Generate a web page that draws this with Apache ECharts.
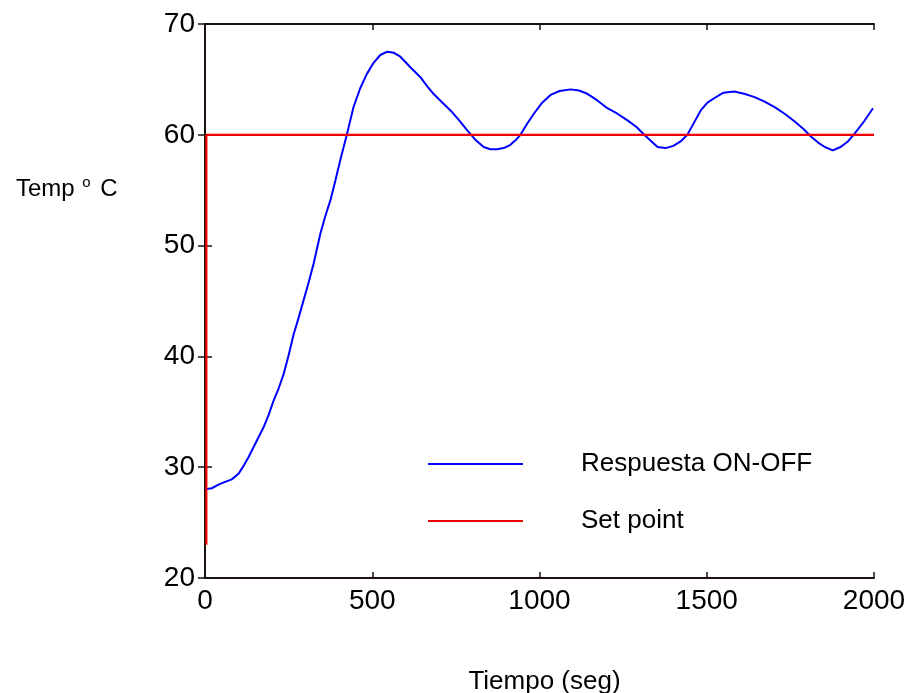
<!DOCTYPE html>
<html>
<head>
<meta charset="utf-8">
<script src="https://cdn.jsdelivr.net/npm/echarts@6/dist/echarts.min.js"></script>
<style>html,body{margin:0;padding:0;background:#fff;}#c{width:909px;height:693px;}</style>
</head>
<body>
<div id="c"></div>
<script>
// Data
const tiempo = [0,20,45,80,100,115,130,145,160,175,190,205,220,235,250,265,280,295,310,325,345,360,375,390,405,424,444,464,484,504,524,545,565,584,614,644,664,683,710,734,760,784,810,833,853,873,893,913,928,943,963,983,1008,1033,1060,1093,1118,1143,1173,1203,1233,1263,1290,1313,1335,1353,1377,1400,1422,1442,1462,1482,1502,1522,1550,1582,1612,1643,1673,1703,1733,1763,1790,1813,1833,1853,1877,1900,1922,1942,1970,1997];
const respuesta = [28.0,28.1,28.5,28.9,29.4,30.1,30.9,31.8,32.7,33.6,34.7,36.0,37.1,38.4,40.1,42.0,43.5,45.1,46.7,48.4,51.1,52.7,54.1,55.9,57.8,60.0,62.5,64.2,65.5,66.5,67.2,67.5,67.4,67.05,66.1,65.2,64.4,63.7,62.9,62.2,61.3,60.4,59.5,58.9,58.7,58.7,58.8,59.1,59.5,60.0,61.0,61.9,62.9,63.6,63.95,64.1,64.0,63.7,63.1,62.4,61.9,61.3,60.7,60.0,59.4,58.9,58.8,59.0,59.4,60.0,61.1,62.2,62.9,63.3,63.8,63.9,63.7,63.4,63.0,62.5,61.9,61.2,60.5,59.8,59.3,58.9,58.6,58.9,59.4,60.1,61.2,62.4];
const setTiempo = [4,4,2000];
const setValor = [23,60,60];
const xTicks = [0,500,1000,1500,2000];
const yTicks = [20,30,40,50,60,70];
const serieNames = ['Respuesta ON-OFF','Set point'];

const FONT = "'Liberation Sans', Arial, Helvetica, sans-serif";
const axisCol = '#1a1010';

const chart = echarts.init(document.getElementById('c'), null, {renderer:'canvas'});
const xMin = xTicks[0], xMax = xTicks[xTicks.length-1];
const yMin = yTicks[0], yMax = yTicks[yTicks.length-1];
const xInt = xTicks[1]-xTicks[0], yInt = yTicks[1]-yTicks[0];

function mkPairs(xs, ys){ return xs.map((x,i)=>[x, ys[i]]); }

chart.setOption({
  animation:false,
  backgroundColor:'#fff',
  title:{
    left:11, top:170,
    text:'{a|Temp }{s|o}{a| C}',
    textStyle:{
      fontWeight:'normal',
      rich:{
        a:{fontFamily:FONT,fontSize:24,fontWeight:'normal',color:'#000',verticalAlign:'bottom',lineHeight:26},
        s:{fontFamily:FONT,fontSize:15,fontWeight:'normal',color:'#000',verticalAlign:'top',lineHeight:26,padding:[0,3,12,1]}
      }
    }
  },
  grid:{left:205,right:35,top:24,bottom:115,containLabel:false,outerBoundsMode:'none'},
  legend:{
    orient:'vertical',
    left:423, top:446,
    itemWidth:95, itemHeight:26, itemGap:31,
    icon:'path://M0,0 L1,0 L1,0.022 L0,0.022 Z',
    textStyle:{fontFamily:FONT,fontSize:26,color:'#000',padding:[0,0,0,53]},
    data:serieNames
  },
  xAxis:[{
    type:'value', min:xMin, max:xMax, interval:xInt, position:'bottom',
    name:'Tiempo (seg)', nameLocation:'middle', nameGap:91,
    nameTextStyle:{fontFamily:FONT,fontSize:26,color:'#000',padding:[0,0,0,10]},
    axisLine:{show:true,lineStyle:{color:axisCol,width:2}},
    axisTick:{show:true,inside:true,length:6,lineStyle:{color:axisCol,width:1.5}},
    axisLabel:{fontFamily:FONT,fontSize:28,color:'#000',margin:9,formatter:(v)=>String(v)},
    splitLine:{show:false}
  },{
    type:'value', min:xMin, max:xMax, interval:xInt, position:'top',
    axisLine:{show:true,lineStyle:{color:axisCol,width:2}},
    axisTick:{show:true,inside:true,length:6,lineStyle:{color:axisCol,width:1.5}},
    axisLabel:{show:false}, splitLine:{show:false}
  }],
  yAxis:[{
    type:'value', min:yMin, max:yMax, interval:yInt, position:'left',
    axisLine:{show:true,lineStyle:{color:axisCol,width:2}},
    axisTick:{show:true,inside:true,length:7,lineStyle:{color:axisCol,width:1.5}},
    axisLabel:{fontFamily:FONT,fontSize:28,color:'#000',margin:10},
    splitLine:{show:false}
  },{
    type:'value', min:yMin, max:yMax, interval:yInt, position:'right',
    axisLine:{show:true,lineStyle:{color:axisCol,width:2}},
    axisTick:{show:true,inside:true,length:7,lineStyle:{color:axisCol,width:1.5}},
    axisLabel:{show:false}, splitLine:{show:false}
  }],
  series:[{
    name:serieNames[0], type:'line', xAxisIndex:0, yAxisIndex:0,
    data:mkPairs(tiempo, respuesta), symbol:'none', smooth:false,
    lineStyle:{color:'#0000ff',width:2}, itemStyle:{color:'#0000ff'}, z:3
  },{
    name:serieNames[1], type:'line', xAxisIndex:0, yAxisIndex:0,
    data:mkPairs(setTiempo, setValor), symbol:'none',
    lineStyle:{color:'#ee0000',width:2.2}, itemStyle:{color:'#ee0000'}, z:4
  }]
});
</script>
</body>
</html>
